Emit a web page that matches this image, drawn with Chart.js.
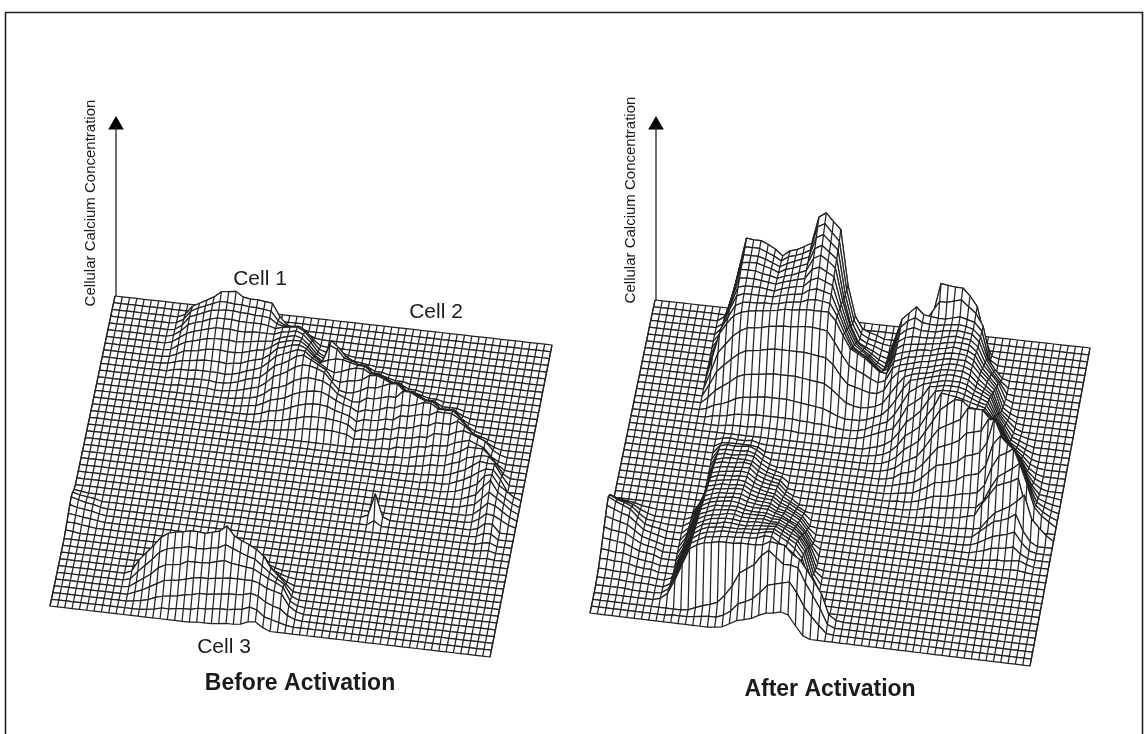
<!DOCTYPE html>
<html><head><meta charset="utf-8">
<style>html,body{margin:0;padding:0;background:#fff}canvas{display:block}</style>
<script src="https://cdn.jsdelivr.net/npm/chart.js@4"></script>
</head><body><canvas id="c" width="1144" height="734"></canvas>
<script>
const panelTitles = ["Before Activation", "After Activation"];
const cellLabels = ["Cell 1", "Cell 2", "Cell 3"];
const axisLabel = "Cellular Calcium Concentration";
const GRID_ROWS = 46, GRID_COLS = 60;
// Each entry: [grid row, first grid column, height, height, ...]; everything else is flat.
const beforeCell1 = [
[2,9,0,3,12,16,20,24,30,31,32,27,26,26,25,24,12,4,2,1],
[3,9,1,5,14,18,21,24,27,27,26,26,25,25,24,23,14,10,9,8,4,1],
[4,9,1,6,15,18,21,24,25,26,26,25,25,24,24,23,18,16,17,18,14,6,1],
[5,9,2,7,14,17,19,22,24,24,24,23,23,23,23,22,20,22,23,24,20,12,4,2,1],
[6,9,2,7,12,15,17,19,21,21,21,20,20,21,21,21,21,24,25,27,24,17,8,4,2],
[7,9,1,6,10,12,14,16,17,17,17,16,17,18,19,20,21,25,27,29,27,21,13,9,5,1],
[8,9,1,4,8,9,10,12,13,13,12,12,13,15,17,18,22,27,29,31,31,26,18,13,9,3,1],
[9,9,1,3,5,6,7,8,8,8,7,8,9,12,14,16,21,28,30,33,34,31,24,19,14,6,2,1,1],
[10,9,0,2,3,3,4,4,4,4,3,4,6,9,11,14,20,27,30,33,36,35,29,25,20,11,4,3,2],
[11,9,0,1,1,1,2,2,2,1,1,2,4,7,9,11,17,24,27,31,36,38,34,30,26,17,9,6,4],
[12,9,0,0,1,1,1,1,1,0,0,1,2,4,6,8,13,20,23,27,32,35,35,33,30,22,14,11,8],
[13,19,1,2,3,5,9,15,17,20,25,28,30,29,28,24,17,14,11],
[14,20,1,2,3,6,10,12,14,18,21,23,24,24,21,17,14,12],
[15,22,1,3,6,7,9,12,15,17,18,18,17,14,12,10],
[16,23,1,3,4,5,7,9,11,12,12,12,11,10,8],
[17,24,1,1,2,3,4,6,6,7,7,7,6,5]];
const beforeCell2 = [
[5,31,12,4,1],
[6,31,20,12,5,3,2,1],
[7,31,28,22,14,10,6,6,2,2],
[8,31,30,27,19,17,14,14,6,6,4,2,2],
[9,31,22,24,24,22,20,20,14,14,10,6,6,2,2],
[10,31,14,17,19,22,24,24,20,20,17,14,14,6,6,4,2,2],
[11,31,11,12,15,17,18,20,25,26,23,20,20,14,14,10,6,6,2,2,2],
[12,31,5,8,10,12,13,16,20,20,23,26,27,20,20,17,14,14,6,6,6,2],
[13,31,3,5,7,8,9,11,16,16,18,20,20,27,27,23,20,20,14,14,14,6,2],
[14,31,1,2,4,5,6,8,11,11,13,16,16,20,20,22,25,25,20,20,20,14,6,2],
[15,32,1,2,2,3,5,8,8,9,11,11,16,16,18,20,20,24,24,24,20,14,6,4,2],
[16,33,1,1,1,2,5,5,6,8,8,11,11,13,16,16,20,20,20,24,20,14,10,6,2],
[17,36,1,2,2,3,5,5,8,8,9,11,11,16,16,16,20,22,20,17,14,6,2],
[18,37,1,1,1,2,2,5,5,6,8,8,11,11,12,16,18,20,17,14,6,2],
[19,40,1,1,2,2,3,5,6,8,8,9,12,15,20,20,20,14,6,1],
[20,42,1,1,1,2,3,5,5,6,9,11,16,18,20,20,14,4],
[21,45,1,1,2,2,3,5,8,11,16,21,20,20,9],
[22,47,1,1,1,2,5,8,12,17,21,21,12],
[23,50,1,2,5,8,12,21,23,13,8,3],
[24,51,1,2,5,8,17,24,13,8,3],
[25,52,1,3,5,12,19,14,9,3],
[26,54,2,8,15,13,8,3],
[27,54,1,5,11,10,6,2],
[28,55,2,8,8],
[29,55,1,5,5],
[30,56,2,3],
[31,56,1,2],
[32,57,1]];
const beforeCell3 = [
[36,14,1,3,3,4,4,4,4,4,5,6,4,4,3,2],
[37,13,3,8,10,11,12,12,11,12,12,13,15,12,11,10,8,5,2],
[38,11,2,6,10,16,20,22,23,24,24,24,25,26,30,24,22,20,16,12,6,3,1],
[39,10,1,6,12,20,30,35,37,38,40,40,40,42,44,50,40,37,35,30,25,14,8,3],
[40,10,3,15,23,31,40,45,47,48,50,50,49,51,53,59,50,46,43,39,33,22,15,8,1],
[41,10,2,10,17,24,32,36,38,39,41,40,40,42,43,47,44,41,38,36,30,24,19,14,3],
[42,10,1,6,11,16,23,27,28,29,33,33,33,34,36,38,36,35,34,33,29,25,22,18,5,1],
[43,10,0,3,6,10,14,18,19,20,22,24,25,25,26,27,28,28,28,28,26,22,20,18,7,2],
[44,10,0,1,2,4,7,9,10,11,13,14,16,16,17,18,19,19,20,22,20,15,12,10,4,1],
[45,10,0,0,0,1,2,4,4,5,6,6,8,8,9,10,10,11,12,15,13,7,5,3,1],
[46,20,1,1,1,2,3,3,4,7,8,3]];
const beforeSpike = [[27,41,2],[28,40,3,25,3],[29,41,5]];
const beforeEdge = [[29,0,2,1],[30,0,6,4,3,2],[31,0,8,6,4,3,1],[32,0,7,5,4,3,1],[33,0,5,4,3,2,1],[34,0,3,3,2,1],[35,0,2,1]];

const afterCell1 = [
[2,10,5,25,55,86,85,85,82,78,72,78,80,84,88,115,120,112,105,50,20,8,5,3],
[3,10,5,27,55,84,84,84,81,78,74,79,81,84,88,112,116,108,100,52,23,10,6,4,2,1],
[4,10,7,30,56,83,83,83,81,78,75,79,82,85,88,108,112,105,98,54,26,12,8,6,3,1],
[5,10,9,33,58,82,83,83,81,79,76,80,82,85,88,104,108,102,96,57,30,15,11,8,4,2,1,1],
[6,10,11,36,60,82,82,82,80,79,77,80,82,85,88,101,105,100,94,62,38,22,17,12,7,4,3,3],
[7,10,14,39,60,80,81,81,80,79,78,81,83,85,87,97,100,96,92,65,43,28,22,17,11,7,6,5],
[8,10,16,42,60,78,80,80,80,79,78,81,83,85,86,93,96,93,90,68,48,33,28,23,16,11,10,9],
[9,10,19,45,61,76,79,79,79,79,79,81,83,84,85,90,92,90,88,71,53,38,33,29,22,16,15,14],
[10,10,22,48,61,73,77,78,78,79,79,80,82,83,84,87,88,87,86,74,58,44,40,36,29,23,21,20],
[11,10,25,50,61,70,74,76,77,78,79,80,82,82,83,84,84,84,84,76,62,50,46,42,36,30,29,28],
[12,10,18,38,47,56,62,66,67,68,70,71,72,72,73,74,74,73,72,62,50,40,36,33,29,26,25,25],
[13,10,12,26,33,40,46,50,51,52,54,55,55,55,55,55,54,53,52,46,36,28,26,24,22,22,23,24],
[14,10,6,14,19,24,30,33,34,35,36,37,37,37,37,36,35,34,33,28,22,16,14,13,14,16,18,20],
[15,10,2,6,8,11,15,17,18,19,20,20,20,20,19,18,17,16,15,12,9,7,7,7,9,12,15,18],
[16,10,0,2,3,4,6,7,7,8,8,8,8,8,8,7,7,6,6,5,4,3,3,4,6,10,13,16],
[17,10,0,0,0,1,2,2,2,3,3,3,3,3,3,2,2,2,2,2,1,2,2,3,5,8,11,14]];
const afterCell2 = [
[3,33,0,5,10,14,22,18,40,69,68,67,67,60,50,20,2],
[4,33,0,10,20,30,44,36,47,58,58,60,62,56,50,38,5],
[5,33,2,22,43,50,57,50,49,48,48,50,52,50,48,40,12],
[6,33,4,22,42,49,53,49,48,48,49,50,51,50,48,41,20,10,2],
[7,33,5,23,41,47,50,48,48,48,50,51,52,51,50,43,26,15,6],
[8,33,7,24,41,46,48,48,48,49,50,52,53,52,51,45,30,20,12,1],
[9,33,9,25,41,46,47,48,49,50,51,53,54,54,53,47,34,26,18,3],
[10,33,12,27,42,45,47,49,50,50,53,54,56,55,54,50,38,30,22,5,1],
[11,33,14,28,42,45,48,49,51,52,54,56,57,57,56,52,42,35,27,8,3],
[12,33,15,29,42,46,48,50,52,53,55,57,58,58,58,54,46,39,32,12,6,1],
[13,33,13,26,38,46,49,51,53,54,56,58,60,60,59,56,48,42,36,17,10,3],
[14,33,10,20,30,40,49,52,54,55,57,60,61,61,61,58,51,46,41,23,14,5,3,1],
[15,33,7,14,22,32,44,53,55,57,59,61,63,63,62,60,54,50,46,29,19,8,5,2],
[16,33,5,10,16,24,36,48,53,58,60,62,64,64,64,62,57,54,50,35,24,12,8,4,1],
[17,33,3,7,11,17,28,41,46,52,63,64,66,66,66,64,60,57,54,41,30,17,12,7,2],
[18,33,2,4,7,12,21,32,38,45,56,66,68,68,68,66,63,60,58,47,38,24,17,11,4,1],
[19,33,1,2,4,8,15,25,30,36,48,58,72,71,70,68,66,64,62,53,46,31,23,16,7,2],
[20,33,0,1,2,5,10,18,23,28,39,50,62,68,74,74,68,67,67,60,55,39,31,23,11,4,1],
[21,33,0,0,1,3,6,12,16,20,29,40,50,54,58,62,74,74,74,66,65,47,39,31,17,7,2],
[22,33,0,0,0,1,3,8,10,13,20,29,38,41,44,48,56,58,60,72,73,57,48,40,24,11,3,2,1],
[23,33,0,0,0,1,2,4,6,8,13,20,27,29,31,34,40,42,45,56,81,64,57,50,32,17,6,3,1],
[24,33,0,0,0,0,1,2,3,4,8,12,17,18,20,22,27,29,31,40,62,71,64,58,41,24,9,5,2],
[25,38,1,1,2,4,7,10,11,12,14,16,17,19,27,46,58,62,67,49,32,13,7,3],
[26,40,1,2,4,6,6,7,8,9,10,11,18,32,44,49,54,60,40,18,10,5],
[27,41,1,2,3,3,4,5,6,8,10,22,32,42,45,48,52,24,7],
[28,43,1,1,1,2,2,3,3,5,14,22,26,30,36,43,20,12,5],
[29,47,1,1,2,8,14,20,22,25,30,14,4],
[30,49,1,4,8,12,14,16,19,9,2],
[31,50,2,4,7,8,9,11,5,1],
[32,51,1,2,3,3,4,5,2],
[33,52,1,1,1,2,2,1]];
const afterCell3 = [
[19,13,2,3,2,2,3,1],
[20,13,4,5,5,5,5,4],
[21,13,8,10,9,10,11,8,3],
[22,13,11,12,12,12,13,11,6,2],
[23,13,13,15,14,15,16,15,9,5,3,1],
[24,13,15,17,18,18,18,17,12,8,6,5],
[25,13,18,20,20,21,22,21,15,12,10,8,1],
[26,13,20,22,23,23,24,24,18,15,13,12,5,1],
[27,13,22,24,25,26,27,26,21,18,17,16,9,5],
[28,13,24,27,28,28,29,29,24,21,20,19,13,9,5,1],
[29,13,27,29,30,31,32,31,27,25,23,22,17,14,10,6],
[30,11,1,12,29,31,33,33,34,34,30,28,27,26,21,18,14,10,1],
[31,11,3,15,31,34,35,36,37,37,33,31,30,30,25,23,19,15,6],
[32,11,5,18,33,36,38,38,39,39,36,34,34,33,29,27,24,20,11,1],
[33,11,6,20,35,38,40,41,42,42,39,38,37,37,33,32,28,24,16,5],
[34,11,8,22,37,41,43,44,45,44,42,41,41,41,38,36,32,29,22,10],
[35,11,10,25,40,43,46,46,47,47,45,44,44,44,42,41,38,34,27,16],
[36,11,12,27,42,45,48,49,50,50,48,48,48,48,46,46,42,39,33,22,2],
[37,11,13,28,44,48,50,51,53,53,51,51,51,52,50,50,47,44,38,28,6],
[38,11,15,30,46,50,53,54,55,55,54,54,55,55,55,55,52,48,44,33,10],
[39,11,17,32,48,53,55,56,58,58,57,57,58,59,59,60,56,52,48,38,14],
[40,10,3,18,34,50,55,58,59,60,60,60,61,61,62,63,64,60,56,52,42,18],
[41,10,4,20,36,52,57,60,61,63,63,63,64,64,65,67,68,64,60,54,45,22],
[42,9,1,6,21,38,54,58,62,63,64,65,65,66,66,67,70,70,65,61,56,47,24],
[43,9,2,8,22,39,55,60,63,64,66,66,66,67,67,67,68,72,71,70,62,58,48,37,26,6,1],
[44,13,1,4,7,9,12,20,30,44,49,54,64,70,64,58,58,56,42,30,18,3],
[45,11,1,1,1,2,3,4,4,7,12,20,23,27,34,42,44,46,48,38,25,16,8,1],
[46,17,1,2,6,10,12,14,18,21,22,24,22,12,3]];
const afterEdge = [[30,0,8,6,5,4,2,1],[31,0,16,13,11,9,5,2],[32,0,23,19,17,14,8,3,2,1],[33,0,28,24,21,18,11,5,3,2],
[34,0,26,23,20,18,12,6,4,2],[35,0,22,20,18,16,11,6,4,2],[36,0,18,16,15,14,10,6,4,3],[37,0,14,13,12,11,8,5,4,3],
[38,0,10,9,8,8,6,4,3,2],[39,0,7,7,6,6,5,3,2,2],[40,0,4,4,3,3,3,2,1,1],[41,0,2,2,2,2,1,1,1,1],[42,0,1,1,1,1,1]];

const beforePatches = [beforeCell1, beforeCell2, beforeCell3, beforeSpike, beforeEdge];
const afterPatches = [afterCell1, afterCell2, afterCell3, afterEdge];

// layout: ground-plane corners on the page (back-left, back-right, front-right, front-left)
const beforeFrame = [[115,296],[552,345],[490,657],[50,606]];
const afterFrame = [[655,300],[1090,348],[1030,666],[590,613]];
const INK = '#222222';
const MESH_WIDTH = 1.25;

function heightField(patches){
  const m = [];
  for(let r=0;r<=GRID_ROWS;r++) m.push(new Array(GRID_COLS+1).fill(0));
  patches.forEach(p=>p.forEach(row=>{
    for(let i=2;i<row.length;i++){const c=row[1]+i-2; m[row[0]][c]=Math.max(m[row[0]][c],row[i]);}
  }));
  return m;
}
function surface(patches, f){
  const m = heightField(patches), out = [];
  const P = (r,c)=>{
    const u=c/GRID_COLS,v=r/GRID_ROWS;
    const bx=f[0][0]+(f[1][0]-f[0][0])*u, by=f[0][1]+(f[1][1]-f[0][1])*u;
    const fx=f[3][0]+(f[2][0]-f[3][0])*u, fy=f[3][1]+(f[2][1]-f[3][1])*u;
    return {x:bx+(fx-bx)*v, y:by+(fy-by)*v-m[r][c]};
  };
  const common={showLine:true,pointRadius:0,pointHoverRadius:0,tension:0,borderJoinStyle:'round',clip:false};
  for(let r=GRID_ROWS-1;r>=0;r--){
    const cols=[];
    for(let c=0;c<=GRID_COLS;c++){cols.push(P(r,c),P(r+1,c),{x:null,y:null});}
    out.push({...common,data:cols,borderColor:INK,borderWidth:MESH_WIDTH,fill:false,spanGaps:false});
    const poly=[];
    for(let c=0;c<=GRID_COLS;c++)poly.push(P(r,c));
    for(let c=GRID_COLS;c>=0;c--)poly.push(P(r+1,c));
    poly.push(P(r,0));
    out.push({...common,data:poly,borderColor:INK,borderWidth:MESH_WIDTH,fill:'shape',backgroundColor:'#ffffff'});
  }
  return out;
}
function arrow(x,yFrom,yTip){
  return [
   {showLine:true,pointRadius:0,data:[{x:x,y:yFrom},{x:x,y:yTip+10}],borderColor:INK,borderWidth:1.3,clip:false},
   {showLine:false,data:[{x:x,y:yTip+10}],pointStyle:'triangle',pointRadius:9,pointBackgroundColor:'#000',pointBorderColor:'#000',borderWidth:0,clip:false}
  ];
}
const frame={showLine:true,pointRadius:0,tension:0,borderColor:'#222',borderWidth:1.6,clip:false,
  data:[{x:5.5,y:734},{x:5.5,y:12.5},{x:1142.5,y:12.5},{x:1142.5,y:734}]};

const texts=[
 {t:cellLabels[0],x:260,y:279,f:'21px "Liberation Sans"',c:'center'},
 {t:cellLabels[1],x:436,y:312,f:'21px "Liberation Sans"',c:'center'},
 {t:cellLabels[2],x:224,y:647,f:'21px "Liberation Sans"',c:'center'},
 {t:panelTitles[0],x:300,y:684,f:'bold 23px "Liberation Sans"',c:'center'},
 {t:panelTitles[1],x:830,y:690,f:'bold 23px "Liberation Sans"',c:'center'},
 {t:axisLabel,x:91,y:203,f:'15px "Liberation Sans"',c:'center',rot:true},
 {t:axisLabel,x:631,y:200,f:'15px "Liberation Sans"',c:'center',rot:true}
];
const textPlugin={id:'labels',afterDraw(ch){
  const g=ch.ctx,sx=ch.scales.x,sy=ch.scales.y;
  g.save();g.fillStyle='#1a1a1a';g.textBaseline='middle';
  texts.forEach(o=>{
    g.save();g.translate(sx.getPixelForValue(o.x),sy.getPixelForValue(o.y));
    if(o.rot)g.rotate(-Math.PI/2);
    g.font=o.f;g.textAlign=o.c;g.fillText(o.t,0,0);g.restore();
  });
  g.restore();
}};
new Chart(document.getElementById('c'),{
  type:'scatter',
  data:{datasets:[frame,...arrow(116,296,115),...arrow(656,300,115),
    ...surface(beforePatches,beforeFrame),...surface(afterPatches,afterFrame)]},
  options:{responsive:false,animation:false,devicePixelRatio:1,
    layout:{padding:0,autoPadding:false},events:[],
    plugins:{legend:{display:false},title:{display:false},tooltip:{enabled:false}},
    scales:{x:{type:'linear',display:false,min:0,max:1144},
            y:{type:'linear',display:false,min:0,max:734,reverse:true}}},
  plugins:[textPlugin]
});
</script></body></html>
